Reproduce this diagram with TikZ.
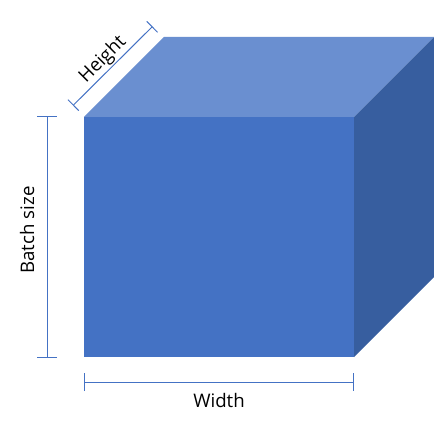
\documentclass[tikz,border=0pt]{standalone}
\usepackage{fontspec}
\setmainfont{Open Sans}
\usetikzlibrary{arrows.meta}
\definecolor{cubefront}{HTML}{4472C4}
\definecolor{cubetop}{HTML}{6A8FD0}
\definecolor{cubeside}{HTML}{375E9F}
\definecolor{dimblue}{HTML}{4472C4}
\tikzset{
  face/.style={
    draw=none
  },
  dimline/.style={
    {Bar[width=#1]}-{Bar[width=#1]},
    draw=dimblue,
    line width=.75pt
  },
  dimline/.default=14pt,
  dimlabel/.style={
    font=\fontsize{14}{17}\selectfont,
    text=black,
    inner sep=0pt
  }
}

\begin{document}
\begin{tikzpicture}[x=.75pt,y=-.75pt]
\useasboundingbox (0,0) rectangle (434,427);
% cube corners
\coordinate (fl) at (84,117);
\coordinate (fr) at (354,117);
\coordinate (br) at (354,357);
\coordinate (bl) at (84,357);
\coordinate (tl) at (164,37);
\coordinate (tr) at (434,37);
\coordinate (sr) at (434,277);
% faces
\fill[face,cubetop] (fl) -- (tl) -- (tr) -- (fr) -- cycle;
\fill[face,cubeside] (fr) -- (tr) -- (sr) -- (br) -- cycle;
\fill[face,cubefront] (fl) -- (fr) -- (br) -- (bl) -- cycle;
% dimension lines
\coordinate (hlo) at (73,105.5);
\coordinate (hhi) at (152.5,26.5);
\coordinate (bsup) at (47,116);
\coordinate (bsdn) at (47,357.5);
\coordinate (wlft) at (84,382);
\coordinate (wrgt) at (353.5,382);
\draw[dimline=11.5pt] (hlo) -- (hhi);
\draw[dimline=15pt] (bsup) -- (bsdn);
\draw[dimline=13.5pt] (wlft) -- (wrgt);
% labels
\node[dimlabel,rotate=45] (height) at (103,60) {Height};
\node[dimlabel,rotate=90] (batch) at (27,230) {Batch size};
\node[dimlabel] (width) at (219,400) {Width};
\end{tikzpicture}
\end{document}
